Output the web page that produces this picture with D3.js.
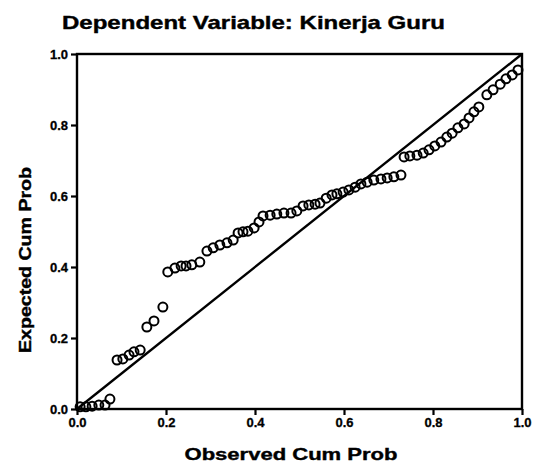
<!DOCTYPE html>
<html>
<head>
<meta charset="utf-8">
<script src="https://cdn.jsdelivr.net/npm/d3@7"></script>
<style>
	body { margin: 0; background: #fff; }
	text { font-family: "Liberation Sans", Arial, sans-serif; font-weight: bold; fill: #000; }
</style>
</head>
<body>
<div id="chart"></div>
<script>

// observed vs expected cumulative probabilities
const observed = [
	0.007, 0.020, 0.034, 0.049, 0.063, 0.074, 0.090, 0.103, 0.117, 0.128,
	0.142, 0.157, 0.173, 0.193, 0.204, 0.220, 0.234, 0.245, 0.258, 0.276,
	0.292, 0.306, 0.321, 0.337, 0.351, 0.362, 0.373, 0.384, 0.398, 0.409,
	0.418, 0.434, 0.449, 0.465, 0.481, 0.494, 0.508, 0.521, 0.535, 0.546,
	0.560, 0.573, 0.584, 0.598, 0.611, 0.625, 0.638, 0.652, 0.667, 0.683,
	0.697, 0.712, 0.728, 0.735, 0.748, 0.764, 0.778, 0.791, 0.804, 0.818,
	0.831, 0.843, 0.856, 0.870, 0.881, 0.892, 0.903, 0.921, 0.935, 0.951,
	0.964, 0.978, 0.991
];
const expected = [
	0.006, 0.006, 0.008, 0.011, 0.011, 0.028, 0.138, 0.141, 0.152, 0.161,
	0.166, 0.231, 0.248, 0.287, 0.386, 0.397, 0.403, 0.403, 0.406, 0.414,
	0.445, 0.454, 0.462, 0.468, 0.476, 0.496, 0.499, 0.501, 0.510, 0.527,
	0.544, 0.546, 0.549, 0.552, 0.552, 0.558, 0.572, 0.575, 0.577, 0.580,
	0.594, 0.603, 0.606, 0.611, 0.617, 0.625, 0.634, 0.639, 0.645, 0.648,
	0.651, 0.654, 0.659, 0.710, 0.713, 0.715, 0.721, 0.730, 0.741, 0.752,
	0.766, 0.777, 0.792, 0.803, 0.820, 0.837, 0.851, 0.885, 0.899, 0.915,
	0.930, 0.941, 0.955
];
const ticks = [ 0, 0.2, 0.4, 0.6, 0.8, 1.0 ];
const title = "Dependent Variable: Kinerja Guru";
const x_title = "Observed Cum Prob";
const y_title = "Expected Cum Prob";

///////////////////////////////////////////////////////////////////////

const width = 534, height = 466;
const margin = { top: 54, right: 12, bottom: 57, left: 77 };

const svg = d3.select( "#chart" )
	.append( "svg" )
		.attr( "width", width )
		.attr( "height", height );

const x = d3.scaleLinear()
	.domain( [ 0, 1 ] )
	.range( [ margin.left, width - margin.right ] );

const y = d3.scaleLinear()
	.domain( [ 0, 1 ] )
	.range( [ height - margin.bottom, margin.top ] );

// title
svg.append( "text" )
	.attr( "x", 62 )
	.attr( "y", 29 )
	.attr( "textLength", 383 )
	.attr( "lengthAdjust", "spacingAndGlyphs" )
	.style( "font-size", "19px" )
	.style( "stroke", "#000" )
	.style( "stroke-width", 0.4 )
	.text( title );

// axes
const fmt = d3.format( ".1f" );

const xaxis = svg.append( "g" )
	.attr( "transform", `translate(0,${ y( 0 ) })` )
	.call( d3.axisBottom( x ).tickValues( ticks ).tickFormat( fmt ).tickSize( 6 ).tickPadding( 3 ) );

const yaxis = svg.append( "g" )
	.attr( "transform", `translate(${ x( 0 ) },0)` )
	.call( d3.axisLeft( y ).tickValues( ticks ).tickFormat( fmt ).tickSize( 6 ).tickPadding( 3 ) );

[ xaxis, yaxis ].forEach( g => {
	g.select( ".domain" ).remove();
	g.selectAll( "line" ).attr( "stroke", "#000" ).attr( "stroke-width", 2.2 );
	g.selectAll( "text" )
		.style( "font-size", "13px" )
		.style( "stroke", "#000" )
		.style( "stroke-width", 0.3 )
		.attr( "fill", "#000" );
} );
yaxis.selectAll( "text" ).attr( "dy", "0.35em" );

// frame
svg.append( "rect" )
	.attr( "x", x( 0 ) )
	.attr( "y", y( 1 ) )
	.attr( "width", x( 1 ) - x( 0 ) )
	.attr( "height", y( 0 ) - y( 1 ) )
	.attr( "fill", "none" )
	.attr( "stroke", "#000" )
	.attr( "stroke-width", 2.4 );

// reference diagonal
svg.append( "line" )
	.attr( "x1", x( 0 ) ).attr( "y1", y( 0 ) )
	.attr( "x2", x( 1 ) ).attr( "y2", y( 1 ) )
	.attr( "stroke", "#000" )
	.attr( "stroke-width", 2.4 );

// points
svg.append( "g" )
	.selectAll( "circle" )
	.data( d3.zip( observed, expected ) )
	.join( "circle" )
		.attr( "cx", d => x( d[ 0 ] ) )
		.attr( "cy", d => y( d[ 1 ] ) )
		.attr( "r", 4.5 )
		.attr( "fill", "none" )
		.attr( "stroke", "#000" )
		.attr( "stroke-width", 2 );

// axis titles
svg.append( "text" )
	.attr( "x", 291 )
	.attr( "y", 460 )
	.attr( "text-anchor", "middle" )
	.attr( "textLength", 213 )
	.attr( "lengthAdjust", "spacingAndGlyphs" )
	.style( "font-size", "17px" )
	.style( "stroke", "#000" )
	.style( "stroke-width", 0.4 )
	.text( x_title );

svg.append( "text" )
	.attr( "transform", `translate(31,260) rotate(-90)` )
	.attr( "text-anchor", "middle" )
	.attr( "textLength", 186 )
	.attr( "lengthAdjust", "spacingAndGlyphs" )
	.style( "font-size", "16px" )
	.style( "stroke", "#000" )
	.style( "stroke-width", 0.4 )
	.text( y_title );

</script>
</body>
</html>
